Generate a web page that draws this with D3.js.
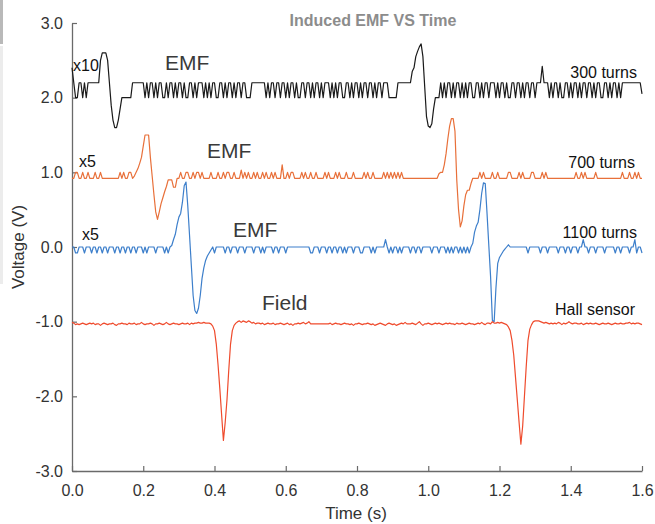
<!DOCTYPE html>
<html>
<head>
<meta charset="utf-8">
<script src="https://cdn.jsdelivr.net/npm/d3@7"></script>
<style>
  body { margin: 0; background: #fff; }
  svg { display: block; font-family: "Helvetica Neue", Helvetica, Arial, "Liberation Sans", sans-serif; }
</style>
</head>
<body>
<div id="chart"></div>
<script>
// samples every 5 ms from 0 to 1.6 s
const timeStep = 0.005;

// 300 turns coil, x10 and offset to 2 V
const emf300 = [
  2.4,2.2,2.0,2.0,2.2,2.2,2.0,2.2,2.0,2.2, 2.2,2.2,2.2,2.2,2.2,2.2,2.5,2.6,2.6,2.6,
  2.5,2.2,1.9,1.7,1.6,1.6,1.7,1.85,2.0,2.0, 2.0,2.0,2.0,2.0,2.2,2.2,2.2,2.2,2.2,2.2,
  2.2,2.0,2.2,2.0,2.2,2.2,2.0,2.2,2.0,2.2, 2.2,2.0,2.0,2.2,2.0,2.2,2.2,2.0,2.2,2.0,
  2.2,2.2,2.0,2.2,2.0,2.0,2.2,2.2,2.0,2.2, 2.0,2.2,2.2,2.2,2.0,2.2,2.0,2.2,2.0,2.2,
  2.2,2.0,2.0,2.2,2.2,2.0,2.2,2.0,2.2,2.2, 2.0,2.2,2.0,2.2,2.2,2.0,2.2,2.2,2.0,2.0,
  2.0,2.2,2.2,2.2,2.2,2.2,2.2,2.2,2.2,2.0, 2.2,2.0,2.2,2.2,2.0,2.2,2.2,2.0,2.2,2.2,
  2.0,2.2,2.0,2.2,2.2,2.0,2.2,2.0,2.0,2.2, 2.2,2.0,2.2,2.2,2.0,2.2,2.0,2.2,2.2,2.0,
  2.2,2.0,2.2,2.2,2.2,2.0,2.2,2.0,2.2,2.0, 2.2,2.2,2.0,2.0,2.2,2.2,2.0,2.2,2.0,2.2,
  2.2,2.0,2.2,2.0,2.2,2.2,2.0,2.2,2.2,2.0, 2.2,2.0,2.2,2.2,2.0,2.2,2.2,2.2,2.0,2.0,
  2.0,2.0,2.0,2.2,2.2,2.2,2.2,2.2,2.2,2.2, 2.2,2.35,2.4,2.55,2.62,2.68,2.72,2.55,2.15,1.75,
  1.62,1.6,1.65,1.85,2.0,2.0,2.0,2.2,2.0,2.2, 2.0,2.2,2.2,2.0,2.2,2.0,2.2,2.2,2.0,2.2,
  2.0,2.2,2.0,2.2,2.2,2.0,2.0,2.2,2.2,2.0, 2.2,2.0,2.2,2.2,2.0,2.2,2.2,2.2,2.0,2.2,
  2.0,2.2,2.2,2.0,2.2,2.0,2.0,2.2,2.2,2.0, 2.2,2.2,2.0,2.2,2.0,2.2,2.2,2.0,2.2,2.2,
  2.0,2.2,2.2,2.2,2.42,2.2,2.2,2.2,2.0,2.2, 2.0,2.2,2.2,2.0,2.2,2.0,2.0,2.2,2.2,2.0,
  2.2,2.0,2.2,2.2,2.0,2.2,2.0,2.2,2.2,2.0, 2.2,2.2,2.0,2.2,2.0,2.2,2.2,2.0,2.0,2.2,
  2.2,2.0,2.2,2.0,2.2,2.2,2.0,2.2,2.0,2.2, 2.2,2.2,2.2,2.2,2.2,2.2,2.2,2.2,2.2,2.2,
  2.05
];

// 700 turns coil, x5 and offset to 1 V
const emf700 = [
  0.92,0.92,1.0,1.0,0.92,0.92,1.0,0.92,0.92,1.0, 0.92,0.92,0.92,1.0,0.92,0.92,1.0,0.92,0.92,0.92,
  0.92,0.92,0.92,0.92,0.92,0.92,0.92,1.0,0.92,1.0, 0.92,0.92,1.0,1.0,0.92,0.95,1.0,1.05,1.12,1.2,
  1.35,1.5,1.5,1.5,1.2,0.95,0.7,0.47,0.37,0.47, 0.58,0.66,0.74,0.81,0.9,0.9,0.9,0.8,0.8,0.92,
  0.92,1.0,0.92,0.92,1.0,1.0,0.92,0.92,1.0,0.92, 1.0,1.0,0.92,1.0,0.92,0.92,0.92,0.92,1.0,0.92,
  0.92,0.92,1.0,0.92,0.92,1.0,0.92,1.0,1.0,0.92, 0.92,1.0,0.92,0.92,0.92,1.03,0.92,1.0,0.92,1.0,
  0.92,0.92,1.0,0.92,1.0,0.92,0.92,1.0,0.92,1.0, 0.92,0.92,1.0,0.92,1.0,0.92,0.92,0.92,1.1,0.92,
  0.92,1.0,0.92,1.0,1.0,0.92,0.92,0.92,0.92,1.0, 0.92,1.0,0.92,0.92,1.0,0.92,0.92,1.0,0.92,0.92,
  0.92,0.92,1.0,0.92,1.0,0.92,0.92,0.92,1.0,0.92, 1.0,0.92,0.92,0.92,1.0,0.92,0.92,0.92,1.0,0.92,
  0.92,0.92,0.92,0.92,1.0,0.92,1.0,0.92,0.92,1.0, 0.92,0.92,0.92,0.92,0.92,1.0,0.92,1.0,0.92,1.0,
  0.92,1.0,0.92,1.0,0.92,1.0,0.92,0.92,0.92,0.92, 0.92,0.92,0.92,0.92,0.92,0.92,0.92,0.92,0.92,0.92,
  0.92,0.92,0.92,0.92,0.92,0.92,0.98,1.0,1.0,1.1, 1.25,1.45,1.62,1.72,1.72,1.55,0.9,0.5,0.27,0.35,
  0.55,0.7,0.76,0.76,0.85,0.92,0.92,0.92,0.92,1.0, 0.92,1.0,0.92,0.92,0.92,0.92,1.0,0.92,0.92,1.0,
  0.92,0.92,0.92,0.92,0.92,1.0,1.0,0.92,0.92,0.92, 0.92,1.0,0.92,1.0,0.92,0.92,0.92,0.92,1.0,1.0,
  0.92,0.92,0.92,0.92,1.0,0.92,1.0,0.92,0.92,0.92, 0.92,0.92,0.92,0.92,0.92,0.92,0.92,0.92,0.92,0.92,
  0.92,0.92,0.92,1.0,0.92,0.92,1.0,0.92,1.0,0.92, 0.92,0.92,0.92,0.92,1.0,0.92,0.92,0.92,0.92,0.92,
  0.92,0.92,0.92,0.92,0.92,0.92,0.92,0.92,0.92,1.0, 0.92,0.92,0.92,1.0,0.92,0.92,1.0,0.92,1.0,0.92,
  0.92
];

// 1100 turns coil, x5
const emf1100 = [
  0,0,-0.08,-0.08,0,0,0,-0.08,0,0, 0,-0.08,0,0,-0.08,0,0,-0.08,0,0,
  -0.08,0,0,0,-0.08,0,0,-0.08,0,0, -0.08,0,0,-0.08,0,0,-0.08,0,0,0,
  -0.08,0,-0.08,0,0,0,0,-0.08,0,0, 0,0,-0.08,0,-0.08,0,0.02,0.1,0.17,0.3,
  0.4,0.45,0.6,0.82,0.87,0.55,0.15,-0.25,-0.65,-0.85, -0.89,-0.82,-0.65,-0.42,-0.28,-0.18,-0.12,-0.08,-0.04,0,
  -0.08,0,0,0,0,0,-0.08,0,0,-0.08, 0,0,0,-0.08,0,0,0,-0.08,0,0,
  0,0,-0.08,0,0,0,-0.08,0,-0.08,0, 0,0,0,-0.08,0,0,-0.08,0,0,0,
  -0.08,0,0,0,0,0,0,0,0,0, 0,0,0,0,-0.08,-0.08,0,0,0,-0.08,
  0,0,0,-0.08,0,0,-0.08,0,0,-0.08, 0,0,-0.08,0,-0.08,0,0,0,-0.08,0,
  0,0,-0.08,-0.08,0,0,0,0,-0.08,0, -0.08,0,0,0,0,0,0.1,0,-0.08,0,
  -0.08,0,0,-0.08,0,-0.08,0,0,0,0, -0.08,0,0,-0.08,0,0,-0.08,0,0,0,
  0,0,-0.08,0,0,0,-0.08,0,0,0, -0.08,0,-0.08,0,-0.08,0,0,-0.08,0,-0.08,
  0,-0.08,0,-0.08,0,0.05,0.2,0.28,0.33,0.5, 0.72,0.86,0.85,0.45,0.02,-0.4,-0.98,-1.0,-0.55,-0.22,
  -0.14,-0.1,-0.06,-0.03,0,0.03,0,0,0,0, 0,0,0,0,0,0,-0.08,0,0,0,
  0,0,0,-0.08,0,0,0,-0.08,0,0, 0,0,0,-0.08,0,0,0,-0.08,0,0,
  -0.08,0,0,0,-0.08,0,0,0.1,0,0, -0.08,0,0,0,-0.08,0,0,0,0,-0.08,
  0,0,0,0,0,-0.08,0,0,-0.08,0, 0,0,0,-0.08,0,0,0.1,-0.08,0,0,
  -0.08
];

// Hall sensor field, offset to -1 V
const hallField = [
  -1.01,-1.02,-1.04,-1.03,-1.04,-1.03,-1.02,-1.03,-1.04,-1.03, -1.02,-1.03,-1.02,-1.04,-1.03,-1.03,-1.05,-1.03,-1.02,-1.03,
  -1.04,-1.03,-1.03,-1.02,-1.04,-1.05,-1.03,-1.03,-1.02,-1.03, -1.03,-1.04,-1.02,-1.03,-1.03,-1.02,-1.04,-1.03,-1.03,-1.01,
  -1.03,-1.04,-1.03,-1.03,-1.02,-1.03,-1.05,-1.03,-1.03,-1.02, -1.03,-1.04,-1.03,-1.01,-1.03,-1.04,-1.03,-1.02,-1.03,-1.03,
  -1.04,-1.03,-1.02,-1.03,-1.03,-1.02,-1.04,-1.02,-1.03,-1.02, -1.02,-1.01,-1.02,-1.02,-1.01,-1.02,-1.02,-1.02,-1.03,-1.06,
  -1.12,-1.3,-1.58,-1.9,-2.25,-2.59,-2.35,-2.05,-1.65,-1.3, -1.12,-1.05,-1.02,-1.0,-0.99,-1.01,-0.99,-1.0,-1.01,-0.99,
  -1.0,-1.02,-1.01,-1.03,-1.02,-1.02,-1.03,-1.02,-1.04,-1.03, -1.02,-1.03,-1.03,-1.02,-1.04,-1.03,-1.03,-1.02,-1.03,-1.04,
  -1.03,-1.02,-1.04,-1.03,-1.05,-1.03,-1.03,-1.02,-1.03,-1.02, -1.01,-1.03,-1.02,-1.0,-1.03,-1.03,-1.03,-1.03,-1.03,-1.03,
  -1.03,-1.03,-1.03,-1.03,-1.03,-1.02,-1.04,-1.03,-1.02,-1.03, -1.03,-1.04,-1.03,-1.02,-1.03,-1.03,-1.04,-1.03,-1.05,-1.03,
  -1.03,-1.02,-1.03,-1.04,-1.03,-1.03,-1.02,-1.03,-1.04,-1.03, -1.05,-1.04,-1.03,-1.02,-1.03,-1.04,-1.05,-1.03,-1.02,-1.03,
  -1.04,-1.03,-1.05,-1.04,-1.03,-1.02,-1.03,-1.01,-1.03,-1.03, -1.03,-1.02,-1.03,-1.04,-1.02,-1.0,-1.03,-1.05,-1.03,-1.03,
  -1.02,-1.03,-1.04,-1.03,-1.02,-1.03,-1.02,-1.03,-1.04,-1.03, -1.02,-1.03,-1.02,-1.03,-1.03,-1.04,-1.02,-1.03,-1.03,-1.02,
  -1.03,-1.04,-1.03,-1.02,-1.03,-1.03,-1.04,-1.03,-1.02,-1.03, -1.01,-1.03,-1.04,-1.02,-1.02,-1.03,-1.0,-1.02,-1.02,-1.01,
  -1.02,-1.01,-1.02,-1.03,-1.04,-1.07,-1.12,-1.25,-1.45,-1.75, -2.05,-2.35,-2.64,-2.4,-2.0,-1.6,-1.25,-1.1,-1.04,-1.0,
  -0.99,-0.99,-0.99,-1.0,-1.01,-1.02,-1.01,-1.02,-1.03,-1.02, -1.03,-1.02,-1.03,-1.01,-1.02,-1.04,-1.02,-1.03,-1.02,-1.0,
  -1.02,-1.03,-1.02,-1.02,-1.03,-1.03,-1.02,-1.04,-1.03,-1.02, -1.03,-1.02,-1.03,-1.03,-1.02,-1.03,-1.04,-1.03,-1.02,-1.03,
  -1.03,-1.02,-1.03,-1.04,-1.03,-1.02,-1.03,-1.03,-1.02,-1.03, -1.03,-1.02,-1.02,-1.01,-1.03,-1.02,-1.03,-1.02,-1.02,-1.03,
  -1.04
];

const xTicks = [0, 0.2, 0.4, 0.6, 0.8, 1.0, 1.2, 1.4, 1.6];
const yTicks = [-3, -2, -1, 0, 1, 2, 3];

const width = 655;
const height = 524;
const margin = { top: 23, right: 13, bottom: 53, left: 72 };

const x = d3.scaleLinear()
  .domain([0, 1.6])
  .range([margin.left, width - margin.right]);
const y = d3.scaleLinear()
  .domain([-3, 3])
  .range([height - margin.bottom, margin.top]);

const svg = d3.select('#chart').append('svg')
  .attr('width', width)
  .attr('height', height);

// screenshot edge left in the original
svg.append('rect').attr('x', 0).attr('y', 0).attr('width', 3).attr('height', 44).attr('fill', '#b9b9b9');
svg.append('rect').attr('x', 0).attr('y', 46).attr('width', 3).attr('height', 238).attr('fill', '#ececec');

// axes with inward ticks, plain hyphen for negatives
const fmt = d => d.toFixed(1);
const xAxis = d3.axisBottom(x)
  .tickValues(xTicks)
  .tickFormat(fmt)
  .tickSizeInner(-5)
  .tickSizeOuter(0)
  .tickPadding(14);
const yAxis = d3.axisLeft(y)
  .tickValues(yTicks)
  .tickFormat(fmt)
  .tickSizeInner(-5)
  .tickSizeOuter(0)
  .tickPadding(9);

const gx = svg.append('g')
  .attr('transform', 'translate(0,' + (height - margin.bottom) + ')')
  .call(xAxis);
const gy = svg.append('g')
  .attr('transform', 'translate(' + margin.left + ',0)')
  .call(yAxis);

[gx, gy].forEach(g => {
  g.select('.domain').attr('stroke', '#6a6a6a').attr('stroke-width', 1.3);
  g.selectAll('.tick line').attr('stroke', '#6a6a6a').attr('stroke-width', 1.2);
  g.selectAll('.tick text')
    .attr('fill', '#333')
    .style('font-size', '16px')
    .style('font-family', '"Helvetica Neue", Helvetica, Arial, "Liberation Sans", sans-serif');
});

// traces
const series = [
  { values: emf300, color: '#1a1a1a', width: 1.2 },
  { values: emf700, color: '#e8703a', width: 1.2 },
  { values: emf1100, color: '#3d7fcb', width: 1.2 },
  { values: hallField, color: '#ef4b2d', width: 1.2 }
];

const line = d3.line()
  .x((d, i) => x(i * timeStep))
  .y(d => y(d));

svg.append('g').selectAll('path')
  .data(series)
  .join('path')
  .attr('d', d => line(d.values))
  .attr('fill', 'none')
  .attr('stroke', d => d.color)
  .attr('stroke-width', d => d.width)
  .attr('stroke-linejoin', 'round');

// annotations
const notes = svg.append('g').attr('fill', '#111').style('font-size', '16px');
notes.append('text').attr('x', 73).attr('y', 71).text('x10');
notes.append('text').attr('x', 79).attr('y', 167).text('x5');
notes.append('text').attr('x', 82).attr('y', 240).text('x5');

const big = svg.append('g').attr('fill', '#3a3a3a').style('font-size', '21px');
big.append('text').attr('x', 165).attr('y', 70).text('EMF');
big.append('text').attr('x', 207).attr('y', 158).text('EMF');
big.append('text').attr('x', 233).attr('y', 237).text('EMF');
big.append('text').attr('x', 262).attr('y', 310).text('Field');

const right = svg.append('g').attr('fill', '#111').attr('text-anchor', 'end').style('font-size', '16px');
right.append('text').attr('x', 637).attr('y', 78).text('300 turns');
right.append('text').attr('x', 635).attr('y', 168).text('700 turns');
right.append('text').attr('x', 637).attr('y', 238).text('1100 turns');
right.append('text').attr('x', 635).attr('y', 315).text('Hall sensor');

// titles
svg.append('text')
  .attr('x', 373).attr('y', 26)
  .attr('text-anchor', 'middle')
  .attr('fill', '#8c8c8c')
  .style('font-size', '16px')
  .style('font-weight', 'bold')
  .text('Induced EMF VS Time');

svg.append('text')
  .attr('x', 356).attr('y', 519)
  .attr('text-anchor', 'middle')
  .attr('fill', '#333')
  .style('font-size', '17px')
  .text('Time (s)');

svg.append('text')
  .attr('transform', 'translate(24,247) rotate(-90)')
  .attr('text-anchor', 'middle')
  .attr('fill', '#333')
  .style('font-size', '17px')
  .text('Voltage (V)');
</script>
</body>
</html>
